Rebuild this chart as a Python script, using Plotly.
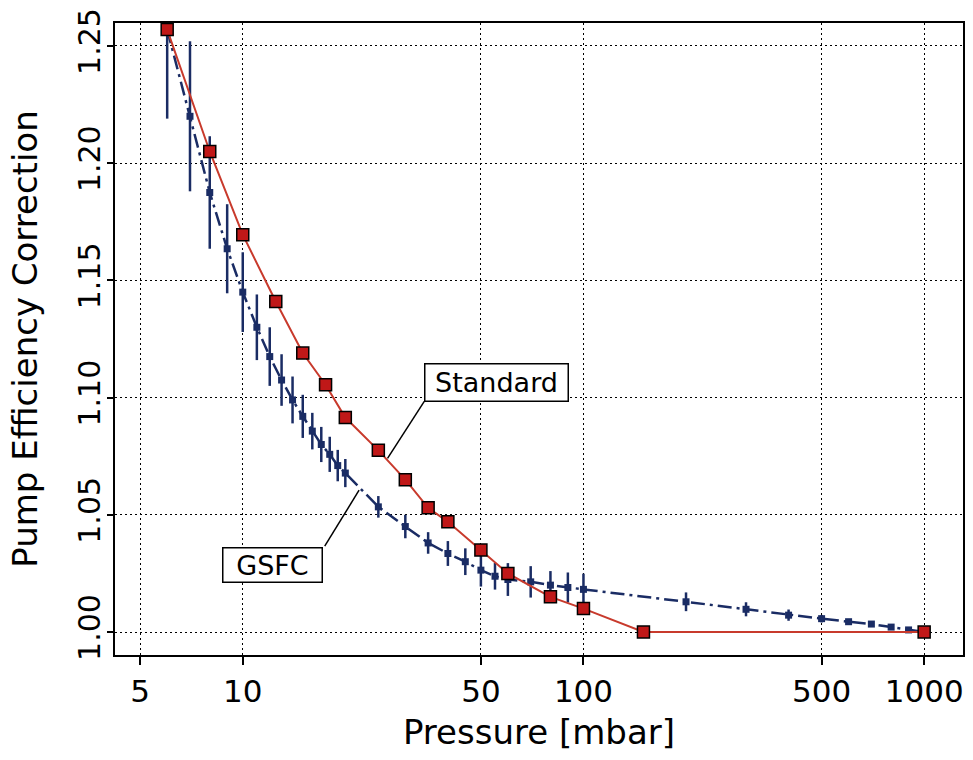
import plotly.graph_objects as go
import numpy as np

# ---- data ----
gsfc_p = [6, 7, 8, 9, 10, 11, 12, 13, 14, 15, 16, 17, 18, 19, 20,
          25, 30, 35, 40, 45, 50, 55, 60, 70, 80, 90, 100,
          200, 300, 400, 500, 600, 700, 800, 900, 1000]
gsfc_corr = [1.257, 1.220, 1.1875, 1.1635, 1.145, 1.130, 1.1175, 1.1075, 1.099, 1.092,
             1.0857, 1.080, 1.0758, 1.071, 1.0678,
             1.0534, 1.045, 1.038, 1.0335, 1.030, 1.0264, 1.0238, 1.0224, 1.0214, 1.020,
             1.019, 1.0182,
             1.0129, 1.0097, 1.0072, 1.0057, 1.0044, 1.0034, 1.0021, 1.0009, 1.000]
gsfc_err = [0.038, 0.032, 0.024, 0.019, 0.017, 0.014, 0.0125, 0.011, 0.010, 0.0092,
            0.0078, 0.0075, 0.0075, 0.0067, 0.006,
            0.0046, 0.005, 0.0046, 0.0053, 0.0057, 0.007, 0.0057, 0.007, 0.0067, 0.006,
            0.0064, 0.0067,
            0.004, 0.003, 0.0024, 0.0016, 0.001, 0.0005, 0.0, 0.0, 0.0]

std_p = [6, 8, 10, 12.5, 15, 17.5, 20, 25, 30, 35, 40, 50, 60, 80, 100, 150, 1000]
std_corr = [1.257, 1.205, 1.1695, 1.141, 1.119, 1.1055, 1.0915, 1.0775, 1.065, 1.053,
            1.047, 1.035, 1.025, 1.015, 1.010, 1.000, 1.000]

x_ticks = [5, 10, 50, 100, 500, 1000]
y_ticks = [1.00, 1.05, 1.10, 1.15, 1.20, 1.25]

NAVY = "#1a2c64"
RED_LINE = "#c83a2c"
RED_FILL = "#c01818"
FONT = "DejaVu Sans"

fig = go.Figure()

fig.add_trace(go.Scatter(
    x=gsfc_p, y=gsfc_corr, name="GSFC", mode="lines+markers",
    line=dict(color=NAVY, width=2.5, dash="14px,5px,3px,5px"),
    marker=dict(symbol="square", size=7, color=NAVY, line=dict(width=0)),
    error_y=dict(type="data", array=gsfc_err, visible=True, color=NAVY,
                 thickness=2.5, width=0),
))

fig.add_trace(go.Scatter(
    x=std_p, y=std_corr, name="Standard", mode="lines+markers",
    line=dict(color=RED_LINE, width=2),
    marker=dict(symbol="square", size=12, color=RED_FILL,
                line=dict(width=1.5, color="black")),
))

# leader lines for labels (data coordinates)
fig.add_shape(type="line", xref="x", yref="y", x0=34.1, y0=1.0984, x1=26.6, y1=1.0741,
              line=dict(color="black", width=1.5))
fig.add_shape(type="line", xref="x", yref="y", x0=17.4, y0=1.0366, x1=21.95, y1=1.0605,
              line=dict(color="black", width=1.5))

fig.add_annotation(x=np.log10(55.5), y=1.1063, xref="x", yref="y", text="Standard",
                   showarrow=False, font=dict(family=FONT, size=27, color="black"),
                   bgcolor="white", bordercolor="black", borderwidth=1.5, borderpad=0,
                   width=142, height=36)
fig.add_annotation(x=np.log10(12.26), y=1.0288, xref="x", yref="y", text="GSFC",
                   showarrow=False, font=dict(family=FONT, size=27, color="black"),
                   bgcolor="white", bordercolor="black", borderwidth=1.5, borderpad=0,
                   width=98, height=33)

grid_dash = "2px,3px"
fig.update_layout(
    width=973, height=760,
    margin=dict(l=115, r=8, t=22, b=105),
    paper_bgcolor="white", plot_bgcolor="white",
    showlegend=False,
    font=dict(family=FONT, color="black"),
    xaxis=dict(
        type="log", range=[0.625, 3.114],
        tickvals=x_ticks, ticktext=[str(v) for v in x_ticks],
        ticks="outside", ticklen=8, tickwidth=1.5, tickcolor="black",
        showgrid=True, gridcolor="black", gridwidth=1.3, griddash=grid_dash,
        showline=True, linecolor="black", linewidth=2, mirror=True,
        zeroline=False,
        tickfont=dict(family=FONT, size=31, color="black"),
        title=dict(text="Pressure [mbar]", font=dict(family=FONT, size=34, color="black"),
                   standoff=12),
    ),
    yaxis=dict(
        range=[0.9902, 1.2598],
        tickvals=y_ticks, ticktext=[f"{v:.2f}" for v in y_ticks],
        tickangle=-90,
        ticks="outside", ticklen=6, tickwidth=1.5, tickcolor="black",
        ticklabelstandoff=-5,
        showgrid=True, gridcolor="black", gridwidth=1.3, griddash=grid_dash,
        showline=True, linecolor="black", linewidth=2, mirror=True,
        zeroline=False,
        tickfont=dict(family=FONT, size=30, color="black"),
        title=dict(text="Pump Efficiency Correction",
                   font=dict(family=FONT, size=34, color="black"), standoff=24),
    ),
)

fig.write_html("out.html")
